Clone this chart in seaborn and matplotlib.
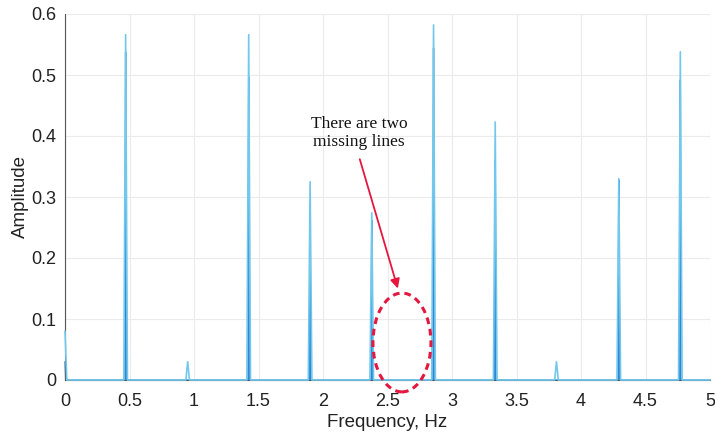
import numpy as np
import pandas as pd
import matplotlib
matplotlib.use("Agg")
import matplotlib.pyplot as plt
from matplotlib.patches import Ellipse
import seaborn as sns

# ---- data ----
peak_freqs_light = [0.0, 0.47, 0.951, 1.424, 1.90, 2.378, 2.857, 3.335, 3.81, 4.293, 4.77]
peak_amps_light  = [0.08, 0.566, 0.03, 0.566, 0.325, 0.274, 0.582, 0.423, 0.03, 0.330, 0.538]
peak_freqs_dark  = [0.0, 0.47, 1.424, 1.90, 2.378, 2.857, 3.335, 4.293, 4.77]
peak_amps_dark   = [0.03, 0.538, 0.497, 0.287, 0.262, 0.544, 0.360, 0.328, 0.492]
x_ticks = [0, 0.5, 1, 1.5, 2, 2.5, 3, 3.5, 4, 4.5, 5]
y_ticks = [0, 0.1, 0.2, 0.3, 0.4, 0.5, 0.6]
annotation_text = "There are two\nmissing lines"

LIGHT = "#72c8ec"
DARK = "#2f86d6"
RED = "#e5173f"


def spectrum(freqs, amps, half_width):
    grid = np.linspace(0, 5, 5001)
    vals = np.zeros_like(grid)
    for f, a in zip(freqs, amps):
        vals = np.maximum(vals, a * np.clip(1 - np.abs(grid - f) / half_width, 0, None))
    return pd.DataFrame({"Frequency": grid, "Amplitude": vals})


light_df = spectrum(peak_freqs_light, peak_amps_light, 0.014)
dark_df = spectrum(peak_freqs_dark, peak_amps_dark, 0.005)

sns.set_style("white")
plt.rcParams["font.family"] = ["Liberation Sans", "DejaVu Sans"]

fig = plt.figure(figsize=(7.15, 4.37), dpi=100)
ax = fig.add_axes([65 / 715, 1 - 380 / 437, 645 / 715, 366 / 437])

sns.lineplot(data=light_df, x="Frequency", y="Amplitude", ax=ax, color=LIGHT,
             lw=1.2, estimator=None, sort=False, zorder=3)
sns.lineplot(data=dark_df, x="Frequency", y="Amplitude", ax=ax, color=DARK,
             lw=1.0, estimator=None, sort=False, zorder=2)
for line in ax.get_lines():
    line.set_clip_on(False)

ax.set_xlim(0, 5)
ax.set_ylim(0, 0.6)
ax.set_xticks(x_ticks)
ax.set_xticklabels([f"{t:g}" for t in x_ticks])
ax.set_yticks(y_ticks)
ax.set_yticklabels([f"{t:g}" for t in y_ticks])
ax.grid(True, color="#ebebeb", lw=0.8)
ax.set_axisbelow(True)
for s in ["top", "right"]:
    ax.spines[s].set_visible(False)
for s in ["left", "bottom"]:
    ax.spines[s].set_color("#555555")
    ax.spines[s].set_linewidth(0.8)
ax.tick_params(direction="in", length=4, width=0.8, color="#444444",
               labelsize=13, labelcolor="#222222")
ax.tick_params(axis="x", pad=9)
ax.tick_params(axis="y", pad=6)
ax.set_xlabel("Frequency, Hz", fontsize=13.5, color="#222222", labelpad=3)
ax.set_ylabel("Amplitude", fontsize=13.5, color="#222222", labelpad=2)

ax.text(2.28, 0.405, annotation_text, ha="center", va="center",
        fontsize=12.5, family="Liberation Serif", color="#111111",
        linespacing=1.15)
ax.annotate("", xy=(2.58, 0.150), xytext=(2.285, 0.362),
            arrowprops=dict(arrowstyle="-|>", color=RED, lw=1.3,
                            mutation_scale=14, shrinkA=0, shrinkB=0))
ax.add_patch(Ellipse((2.612, 0.0615), 0.45, 0.162, fill=False, ec=RED,
                     lw=2.2, ls=(0, (2.2, 1.6)), zorder=5, clip_on=False))

fig.savefig("out.png", dpi=100)
